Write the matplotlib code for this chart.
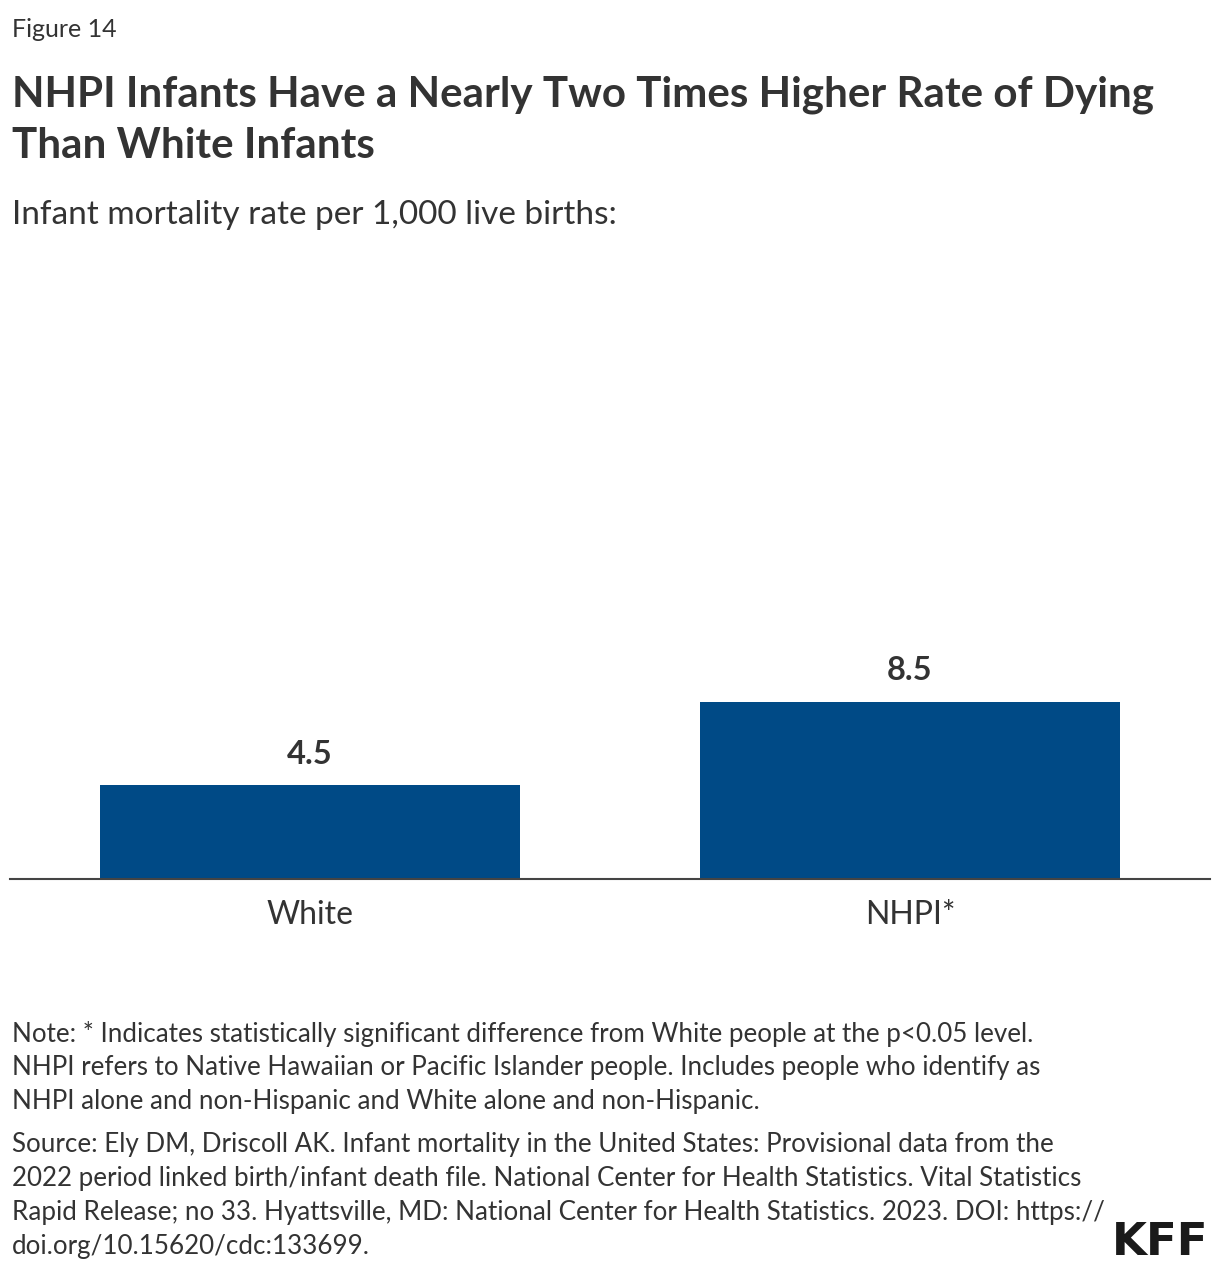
import matplotlib.pyplot as plt

# data
categories = ['White', 'NHPI*']
rates = [4.5, 8.5]
value_labels = ['4.5', '8.5']

W, H = 1220, 1272
bar_color = '#004A86'
text_color = '#333333'

plt.rcParams['font.family'] = ['Lato', 'DejaVu Sans']

fig = plt.figure(figsize=(W / 100, H / 100), dpi=100)


def fy(px):
    return 1 - px / H


def fx(px):
    return px / W


# axes: baseline at y=879px, 20.85 px per unit
ax_bottom = 879
ymax = 30
ax_top = ax_bottom - ymax * 20.85
ax = fig.add_axes([fx(10), fy(ax_bottom), fx(1200), (ax_bottom - ax_top) / H])
x = range(len(categories))
ax.bar(x, rates, width=0.7, color=bar_color, zorder=2)
ax.set_xlim(-0.5, 1.5)
ax.set_ylim(0, ymax)
for sp in ['top', 'right', 'left']:
    ax.spines[sp].set_visible(False)
ax.spines['bottom'].set_color('#444444')
ax.spines['bottom'].set_linewidth(1.5)
ax.set_yticks([])
ax.set_xticks(list(x))
ax.set_xticklabels(categories, fontsize=23, color=text_color)
ax.tick_params(axis='x', length=0, pad=15)
for i, v in enumerate(rates):
    ax.annotate(value_labels[i], (i, v), xytext=(0, 12), textcoords='offset points',
                ha='center', va='bottom', fontsize=23.5, fontweight='bold', color=text_color)

# header
fig.text(fx(12), fy(37), 'Figure 14', fontsize=18, color=text_color, va='baseline')
fig.text(fx(12), fy(107), 'NHPI Infants Have a Nearly Two Times Higher Rate of Dying',
         fontsize=30.3, fontweight='bold', color=text_color, va='baseline')
fig.text(fx(12), fy(158), 'Than White Infants',
         fontsize=30.3, fontweight='bold', color=text_color, va='baseline')
fig.text(fx(12), fy(224), 'Infant mortality rate per 1,000 live births:',
         fontsize=24, color=text_color, va='baseline')

# notes
note_lines = [
    'Note: * Indicates statistically significant difference from White people at the p<0.05 level.',
    'NHPI refers to Native Hawaiian or Pacific Islander people. Includes people who identify as',
    'NHPI alone and non-Hispanic and White alone and non-Hispanic.',
]
source_lines = [
    'Source: Ely DM, Driscoll AK. Infant mortality in the United States: Provisional data from the',
    '2022 period linked birth/infant death file. National Center for Health Statistics. Vital Statistics',
    'Rapid Release; no 33. Hyattsville, MD: National Center for Health Statistics. 2023. DOI: https://',
    'doi.org/10.15620/cdc:133699.',
]
for i, line in enumerate(note_lines):
    fig.text(fx(12), fy(1042 + i * 33.5), line, fontsize=18.7, color=text_color, va='baseline')
for i, line in enumerate(source_lines):
    fig.text(fx(12), fy(1152 + i * 34), line, fontsize=18.7, color=text_color, va='baseline')

# logo
fig.text(fx(1208), fy(1255), 'KFF', fontsize=32.5, fontweight='bold', family='DejaVu Sans',
         color='#1a1a1a', ha='right', va='baseline')

fig.savefig('out.png', dpi=100)
